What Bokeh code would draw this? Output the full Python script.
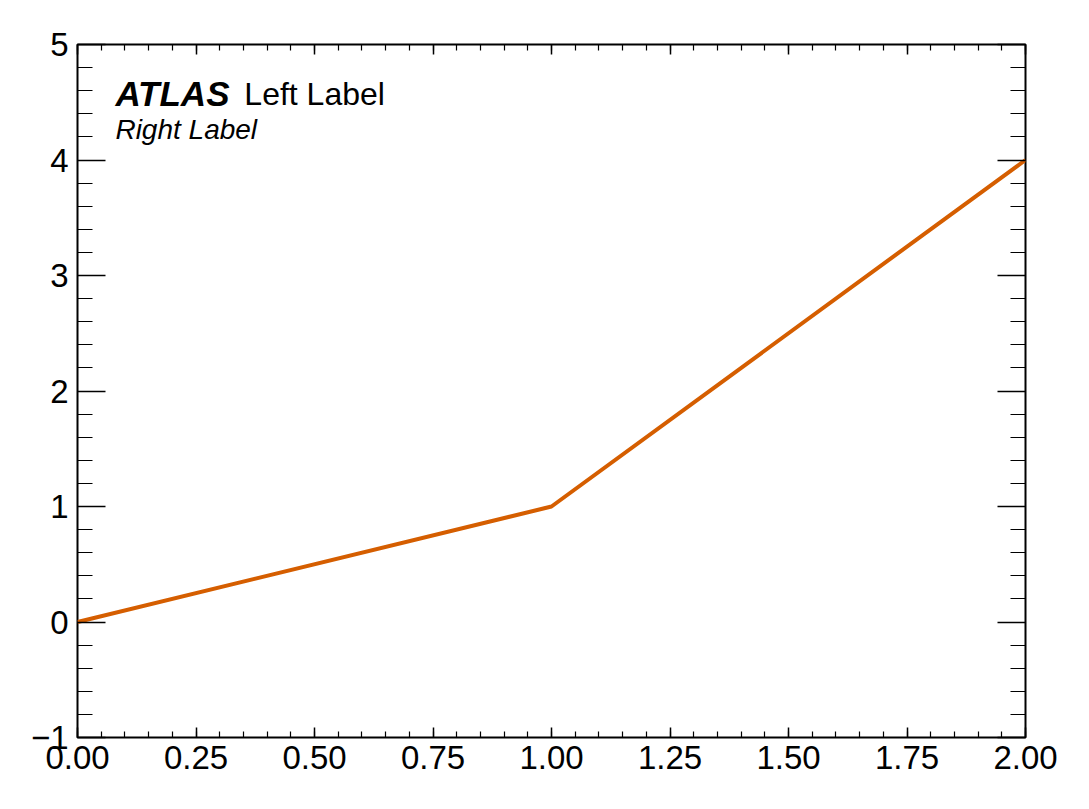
import numpy as np
from bokeh.plotting import figure
from bokeh.models import (FixedTicker, LinearAxis, Label, Range1d,
                          CustomJSTickFormatter, PrintfTickFormatter)
from bokeh.embed import file_html
from bokeh.resources import INLINE

# data
x_vals = [0.0, 1.0, 2.0]
y_vals = [0.0, 1.0, 4.0]
x_ticks = [0.0, 0.25, 0.5, 0.75, 1.0, 1.25, 1.5, 1.75, 2.0]
y_ticks = [-1, 0, 1, 2, 3, 4, 5]
title_main = "ATLAS"
title_left = "Left Label"
title_right = "Right Label"

FONT = "Liberation Sans"
LINE_COLOR = "#D55E00"

p = figure(frame_width=948, frame_height=693, output_backend="svg",
           toolbar_location=None, x_range=Range1d(0, 2), y_range=Range1d(-1, 5),
           min_border_left=77, min_border_top=44, min_border_right=44,
           min_border_bottom=60)
p.background_fill_color = "white"
p.border_fill_color = "white"
p.outline_line_color = "black"
p.outline_line_width = 2
p.xgrid.visible = False
p.ygrid.visible = False

x_minor = list(np.round(np.arange(0, 2.0001, 0.05), 4))
y_minor = list(np.round(np.arange(-1, 5.0001, 0.2), 4))

yfmt = CustomJSTickFormatter(code="return tick < 0 ? '\u2212' + Math.abs(tick) : String(tick);")
xfmt = PrintfTickFormatter(format="%.2f")
blank = CustomJSTickFormatter(code="return '';")


def style(ax, major_in, minor_in):
    ax.major_tick_in = major_in
    ax.major_tick_out = 0
    ax.minor_tick_in = minor_in
    ax.minor_tick_out = 0
    ax.major_tick_line_color = "black"
    ax.minor_tick_line_color = "black"
    ax.major_tick_line_width = 1.5
    ax.minor_tick_line_width = 1.2
    ax.axis_line_color = None
    ax.major_label_text_font = FONT
    ax.major_label_text_font_size = "33px"
    ax.major_label_text_color = "black"


xa = p.xaxis[0]
xa.ticker = FixedTicker(ticks=x_ticks, minor_ticks=x_minor)
xa.formatter = xfmt
style(xa, 10, 6)
xa.major_label_standoff = 8

ya = p.yaxis[0]
ya.ticker = FixedTicker(ticks=y_ticks, minor_ticks=y_minor)
ya.formatter = yfmt
style(ya, 28, 15)
ya.major_label_standoff = 9

top = LinearAxis(ticker=FixedTicker(ticks=x_ticks, minor_ticks=x_minor),
                 formatter=blank)
style(top, 10, 6)
top.major_label_standoff = 0
p.add_layout(top, "above")

right = LinearAxis(ticker=FixedTicker(ticks=y_ticks, minor_ticks=y_minor),
                   formatter=blank)
style(right, 28, 15)
right.major_label_standoff = 0
p.add_layout(right, "right")

p.line(x_vals, y_vals, line_color=LINE_COLOR, line_width=4)

p.add_layout(Label(x=0.08, y=4.573, text=title_main, text_font=FONT,
                   text_font_size="35px", text_font_style="bold italic",
                   text_color="black", text_baseline="middle"))
p.add_layout(Label(x=0.352, y=4.571, text=title_left, text_font=FONT,
                   text_font_size="32px", text_color="black",
                   text_baseline="middle"))
p.add_layout(Label(x=0.08, y=4.268, text=title_right, text_font=FONT,
                   text_font_size="28px", text_font_style="italic",
                   text_color="black", text_baseline="middle"))

open("out.html", "w").write(file_html(p, INLINE))
